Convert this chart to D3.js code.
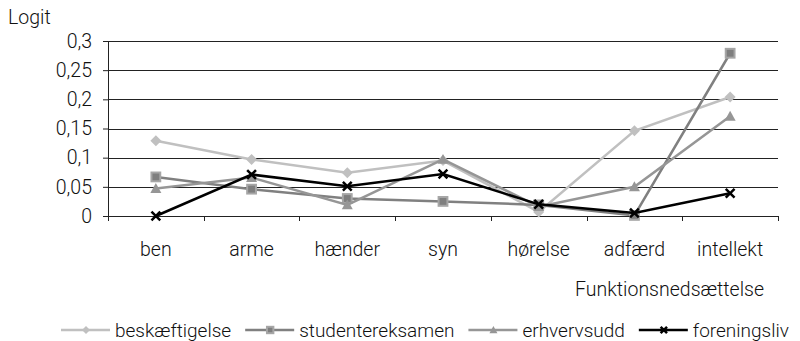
<!DOCTYPE html>
<html>
<head>
<meta charset="utf-8">
<script src="https://cdn.jsdelivr.net/npm/d3@7"></script>
<style>
  body { margin: 0; background: #fff; }
  text { font-family: Roboto, "Noto Sans", sans-serif; font-weight: 300; fill: #111; }
</style>
</head>
<body>
<div id="chart"></div>
<script>
// data
const categories = ['ben', 'arme', 'hænder', 'syn', 'hørelse', 'adfærd', 'intellekt'];
const beskaeftigelse   = [0.129, 0.097, 0.074, 0.095, 0.007, 0.146, 0.204];
const studentereksamen = [0.067, 0.046, 0.030, 0.025, 0.019, 0.001, 0.279];
const erhvervsudd      = [0.047, 0.066, 0.019, 0.097, 0.016, 0.050, 0.171];
const foreningsliv     = [0.000, 0.071, 0.051, 0.072, 0.020, 0.005, 0.039];
const yTicks = [0, 0.05, 0.1, 0.15, 0.2, 0.25, 0.3];

const series = [
    {name: 'beskæftigelse', values: beskaeftigelse, color: '#c0c0c0', marker: 'diamond'},
    {name: 'studentereksamen', values: studentereksamen, color: '#808080', marker: 'square'},
    {name: 'erhvervsudd', values: erhvervsudd, color: '#969696', marker: 'triangle'},
    {name: 'foreningsliv', values: foreningsliv, color: '#000000', marker: 'cross'}
];

const fontSize = 19.5;
const legendFont = 19;
const margin = {top: 41, right: 22, bottom: 125, left: 108};
const width = 800 - margin.left - margin.right;
const height = 341 - margin.top - margin.bottom;

const svg = d3.select('#chart').append('svg')
    .attr('width', 800)
    .attr('height', 341);

const g = svg.append('g')
    .attr('transform', 'translate(' + margin.left + ',' + margin.top + ')');

// scales
const xScale = d3.scaleBand()
    .domain(categories)
    .range([0, width]);

const yScale = d3.scaleLinear()
    .domain([0, 0.3])
    .range([height, 0]);

const fmt = d => String(d).replace('.', ',');

// gridlines
g.append('g')
    .selectAll('line')
    .data(yTicks.slice(1))
    .join('line')
    .attr('x1', 0)
    .attr('x2', width)
    .attr('y1', d => Math.round(yScale(d)) + 0.5)
    .attr('y2', d => Math.round(yScale(d)) + 0.5)
    .attr('stroke', '#222')
    .attr('stroke-width', 1);

// y axis
const yAxis = d3.axisLeft(yScale)
    .tickValues(yTicks)
    .tickSize(5)
    .tickPadding(11)
    .tickFormat(fmt);

g.append('g')
    .attr('class', 'y-axis')
    .call(yAxis)
    .call(a => a.selectAll('text').attr('font-size', fontSize).attr('font-family', null))
    .call(a => a.selectAll('line,path').attr('stroke', '#222'));

// x axis with ticks on band boundaries
g.append('line')
    .attr('x1', 0).attr('x2', width)
    .attr('y1', height + 0.5).attr('y2', height + 0.5)
    .attr('stroke', '#222');

g.append('g')
    .selectAll('line')
    .data(categories.concat(['__end']))
    .join('line')
    .attr('x1', (d, i) => Math.round(i * xScale.step()) + 0.5)
    .attr('x2', (d, i) => Math.round(i * xScale.step()) + 0.5)
    .attr('y1', height)
    .attr('y2', height + 5)
    .attr('stroke', '#222');

g.append('g')
    .selectAll('text')
    .data(categories)
    .join('text')
    .attr('x', d => xScale(d) + xScale.bandwidth() / 2)
    .attr('y', height + 40)
    .attr('text-anchor', 'middle')
    .attr('font-size', fontSize)
    .text(d => d);

const cx = i => xScale(categories[i]) + xScale.bandwidth() / 2;

// marker drawing
function drawMarker(sel, type, color, s) {
    if (type === 'diamond') {
        sel.append('path')
            .attr('d', `M0,${-s}L${s},0L0,${s}L${-s},0Z`)
            .attr('fill', color);
    } else if (type === 'square') {
        sel.append('rect')
            .attr('x', -s * 0.8).attr('y', -s * 0.8)
            .attr('width', s * 1.6).attr('height', s * 1.6)
            .attr('fill', '#7f7f7f')
            .attr('stroke', '#a6a6a6')
            .attr('stroke-width', 2);
    } else if (type === 'triangle') {
        sel.append('path')
            .attr('d', `M0,${-s}L${s},${s * 0.8}L${-s},${s * 0.8}Z`)
            .attr('fill', color);
    } else {
        sel.append('path')
            .attr('d', `M${-s * 0.8},${-s * 0.8}L${s * 0.8},${s * 0.8}M${s * 0.8},${-s * 0.8}L${-s * 0.8},${s * 0.8}`)
            .attr('stroke', color)
            .attr('stroke-width', 2.5);
    }
}

const line = d3.line()
    .x((d, i) => cx(i))
    .y(d => yScale(d));

series.forEach(s => {
    g.append('path')
        .datum(s.values)
        .attr('fill', 'none')
        .attr('stroke', s.color)
        .attr('stroke-width', 2.5)
        .attr('d', line);

    g.append('g')
        .selectAll('g')
        .data(s.values)
        .join('g')
        .attr('transform', (d, i) => 'translate(' + cx(i) + ',' + yScale(d) + ')')
        .each(function() { drawMarker(d3.select(this), s.marker, s.color, 5.5); });
});

// titles
svg.append('text')
    .attr('x', 8)
    .attr('y', 24)
    .attr('font-size', fontSize)
    .text('Logit');

svg.append('text')
    .attr('x', 764)
    .attr('y', 296)
    .attr('text-anchor', 'end')
    .attr('font-size', fontSize)
    .text('Funktionsnedsættelse');

// legend
const legend = svg.append('g')
    .attr('transform', 'translate(61,330)');

let lx = 0;
series.forEach(s => {
    const item = legend.append('g').attr('transform', 'translate(' + lx + ',0)');
    item.append('line')
        .attr('x1', 0).attr('x2', 49)
        .attr('y1', 0).attr('y2', 0)
        .attr('stroke', s.color)
        .attr('stroke-width', 2.5);
    const m = item.append('g').attr('transform', 'translate(25,0)');
    drawMarker(m, s.marker, s.color, 4);
    const t = item.append('text')
        .attr('x', 54)
        .attr('y', 7)
        .attr('font-size', legendFont)
        .text(s.name);
    lx += 54 + t.node().getComputedTextLength() + 14;
});
</script>
</body>
</html>
